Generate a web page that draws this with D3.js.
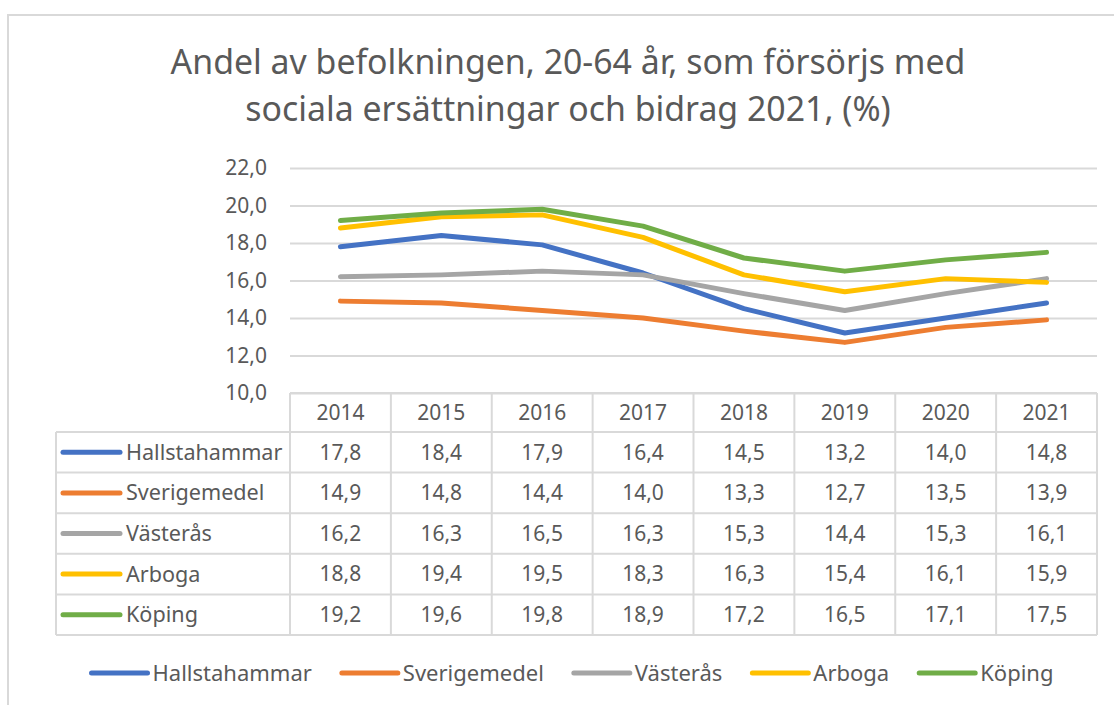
<!DOCTYPE html>
<html>
<head>
<meta charset="utf-8">
<script src="https://cdn.jsdelivr.net/npm/d3@7/dist/d3.min.js"></script>
<style>
  html, body { margin: 0; padding: 0; background: #fff; }
  svg { display: block; }
  text { font-family: "Noto Sans", "Open Sans", sans-serif; fill: #595959; }
</style>
</head>
<body>
<div id="chart"></div>
<script>
const years = ['2014', '2015', '2016', '2017', '2018', '2019', '2020', '2021'];
const seriesNames = ['Hallstahammar', 'Sverigemedel', 'Västerås', 'Arboga', 'Köping'];
const hallstahammar = [17.8, 18.4, 17.9, 16.4, 14.5, 13.2, 14.0, 14.8];
const sverigemedel = [14.9, 14.8, 14.4, 14.0, 13.3, 12.7, 13.5, 13.9];
const vasteras = [16.2, 16.3, 16.5, 16.3, 15.3, 14.4, 15.3, 16.1];
const arboga = [18.8, 19.4, 19.5, 18.3, 16.3, 15.4, 16.1, 15.9];
const koping = [19.2, 19.6, 19.8, 18.9, 17.2, 16.5, 17.1, 17.5];
const yTicks = [10, 12, 14, 16, 18, 20, 22];
const titleLines = ['Andel av befolkningen, 20-64 år, som försörjs med', 'sociala ersättningar och bidrag 2021, (%)'];

const seriesValues = [hallstahammar, sverigemedel, vasteras, arboga, koping];
const colors = ['#4472c4', '#ed7d31', '#a5a5a5', '#ffc000', '#70ad47'];
const series = seriesNames.map((name, i) => ({ name, values: seriesValues[i], color: colors[i] }));

const width = 1114, height = 705;
const gridColor = '#d9d9d9';
const fmt = v => d3.format('.1f')(v).replace('.', ',');

const svg = d3.select('#chart').append('svg')
  .attr('width', width)
  .attr('height', height);

// chart frame
svg.append('rect')
  .attr('x', 8).attr('y', 15)
  .attr('width', 1140).attr('height', 720)
  .attr('fill', '#fff')
  .attr('stroke', gridColor)
  .attr('stroke-width', 2);

// title
const titleCenter = 568;
svg.selectAll('.title')
  .data(titleLines)
  .enter().append('text')
  .attr('class', 'title')
  .attr('x', titleCenter)
  .attr('y', (d, i) => 74 + i * 47)
  .attr('text-anchor', 'middle')
  .style('font-size', '32px')
  .text(d => d);

// fit the first title line to ~795px
const t0 = svg.select('.title').node().getComputedTextLength();
const titleSize = 32 * 795 / t0;
svg.selectAll('.title').style('font-size', `${titleSize}px`);

const x = d3.scaleBand()
  .domain(years)
  .range([290, 1097]);

const y = d3.scaleLinear()
  .domain([10, 22])
  .range([393, 168]);

// y axis + gridlines
const yAxis = svg.append('g')
  .attr('transform', 'translate(290,0)')
  .call(d3.axisLeft(y)
    .tickValues(yTicks)
    .tickSize(-(1097 - 290))
    .tickPadding(23)
    .tickFormat(fmt));

yAxis.select('.domain').remove();
yAxis.selectAll('.tick line')
  .attr('stroke', gridColor)
  .attr('stroke-width', 2);
yAxis.selectAll('.tick text')
  .style('font-size', '21px')
  .style('font-family', '"Noto Sans", sans-serif')
  .attr('fill', '#595959');

// lines
const line = d3.line()
  .x((d, i) => x(years[i]) + x.bandwidth() / 2)
  .y(d => y(d));

svg.selectAll('.series')
  .data(series)
  .enter().append('path')
  .attr('class', 'series')
  .attr('fill', 'none')
  .attr('stroke', d => d.color)
  .attr('stroke-width', 5)
  .attr('stroke-linejoin', 'round')
  .attr('stroke-linecap', 'round')
  .attr('d', d => line(d.values));

// data table
const tableLeft = 56, tableTop = 393, headerBottom = 432, tableBottom = 635;
const rowY = d3.scaleBand()
  .domain(seriesNames)
  .range([headerBottom, tableBottom]);

const table = svg.append('g');

// header cells
table.selectAll('.hdr')
  .data(years)
  .enter().append('text')
  .attr('class', 'hdr')
  .attr('x', d => x(d) + x.bandwidth() / 2)
  .attr('y', (tableTop + headerBottom) / 2)
  .attr('dy', '0.35em')
  .attr('text-anchor', 'middle')
  .style('font-size', '21px')
  .text(d => d);

// horizontal rules
table.append('line')
  .attr('x1', 290).attr('x2', 1097)
  .attr('y1', tableTop).attr('y2', tableTop);
table.selectAll('.hrule')
  .data([headerBottom].concat(seriesNames.map(n => rowY(n) + rowY.bandwidth())))
  .enter().append('line')
  .attr('x1', tableLeft).attr('x2', 1097)
  .attr('y1', d => d).attr('y2', d => d);

// vertical rules
table.append('line')
  .attr('x1', tableLeft).attr('x2', tableLeft)
  .attr('y1', headerBottom).attr('y2', tableBottom);
table.selectAll('.vrule')
  .data(years)
  .enter().append('line')
  .attr('x1', d => x(d)).attr('x2', d => x(d))
  .attr('y1', tableTop).attr('y2', tableBottom);
table.append('line')
  .attr('x1', 1097).attr('x2', 1097)
  .attr('y1', tableTop).attr('y2', tableBottom);

table.selectAll('line')
  .attr('stroke', gridColor)
  .attr('stroke-width', 2);

// rows
const rows = table.selectAll('.row')
  .data(series)
  .enter().append('g')
  .attr('class', 'row')
  .attr('transform', d => `translate(0,${rowY(d.name) + rowY.bandwidth() / 2})`);

rows.append('line')
  .attr('x1', 63).attr('x2', 120)
  .attr('stroke', d => d.color)
  .attr('stroke-width', 5)
  .attr('stroke-linecap', 'round');

rows.append('text')
  .attr('x', 126)
  .attr('dy', '0.35em')
  .style('font-size', '21.6px')
  .text(d => d.name);

rows.selectAll('.val')
  .data(d => d.values)
  .enter().append('text')
  .attr('class', 'val')
  .attr('x', (d, i) => x(years[i]) + x.bandwidth() / 2)
  .attr('dy', '0.35em')
  .attr('text-anchor', 'middle')
  .style('font-size', '21px')
  .text(d => fmt(d));

// legend
const legend = svg.append('g')
  .attr('transform', 'translate(0,673)');

const items = legend.selectAll('.legend-item')
  .data(series)
  .enter().append('g')
  .attr('class', 'legend-item');

items.append('line')
  .attr('x1', 2).attr('x2', 58)
  .attr('stroke', d => d.color)
  .attr('stroke-width', 5)
  .attr('stroke-linecap', 'round');

items.append('text')
  .attr('x', 63)
  .attr('dy', '0.35em')
  .style('font-size', '22px')
  .text(d => d.name);

const widths = [];
items.each(function() {
  widths.push(63 + d3.select(this).select('text').node().getComputedTextLength());
});
const gap = 28;
const total = d3.sum(widths) + gap * (widths.length - 1);
let cursor = 571.5 - total / 2;
items.attr('transform', (d, i) => {
  const tx = cursor;
  cursor += widths[i] + gap;
  return `translate(${tx},0)`;
});
</script>
</body>
</html>
